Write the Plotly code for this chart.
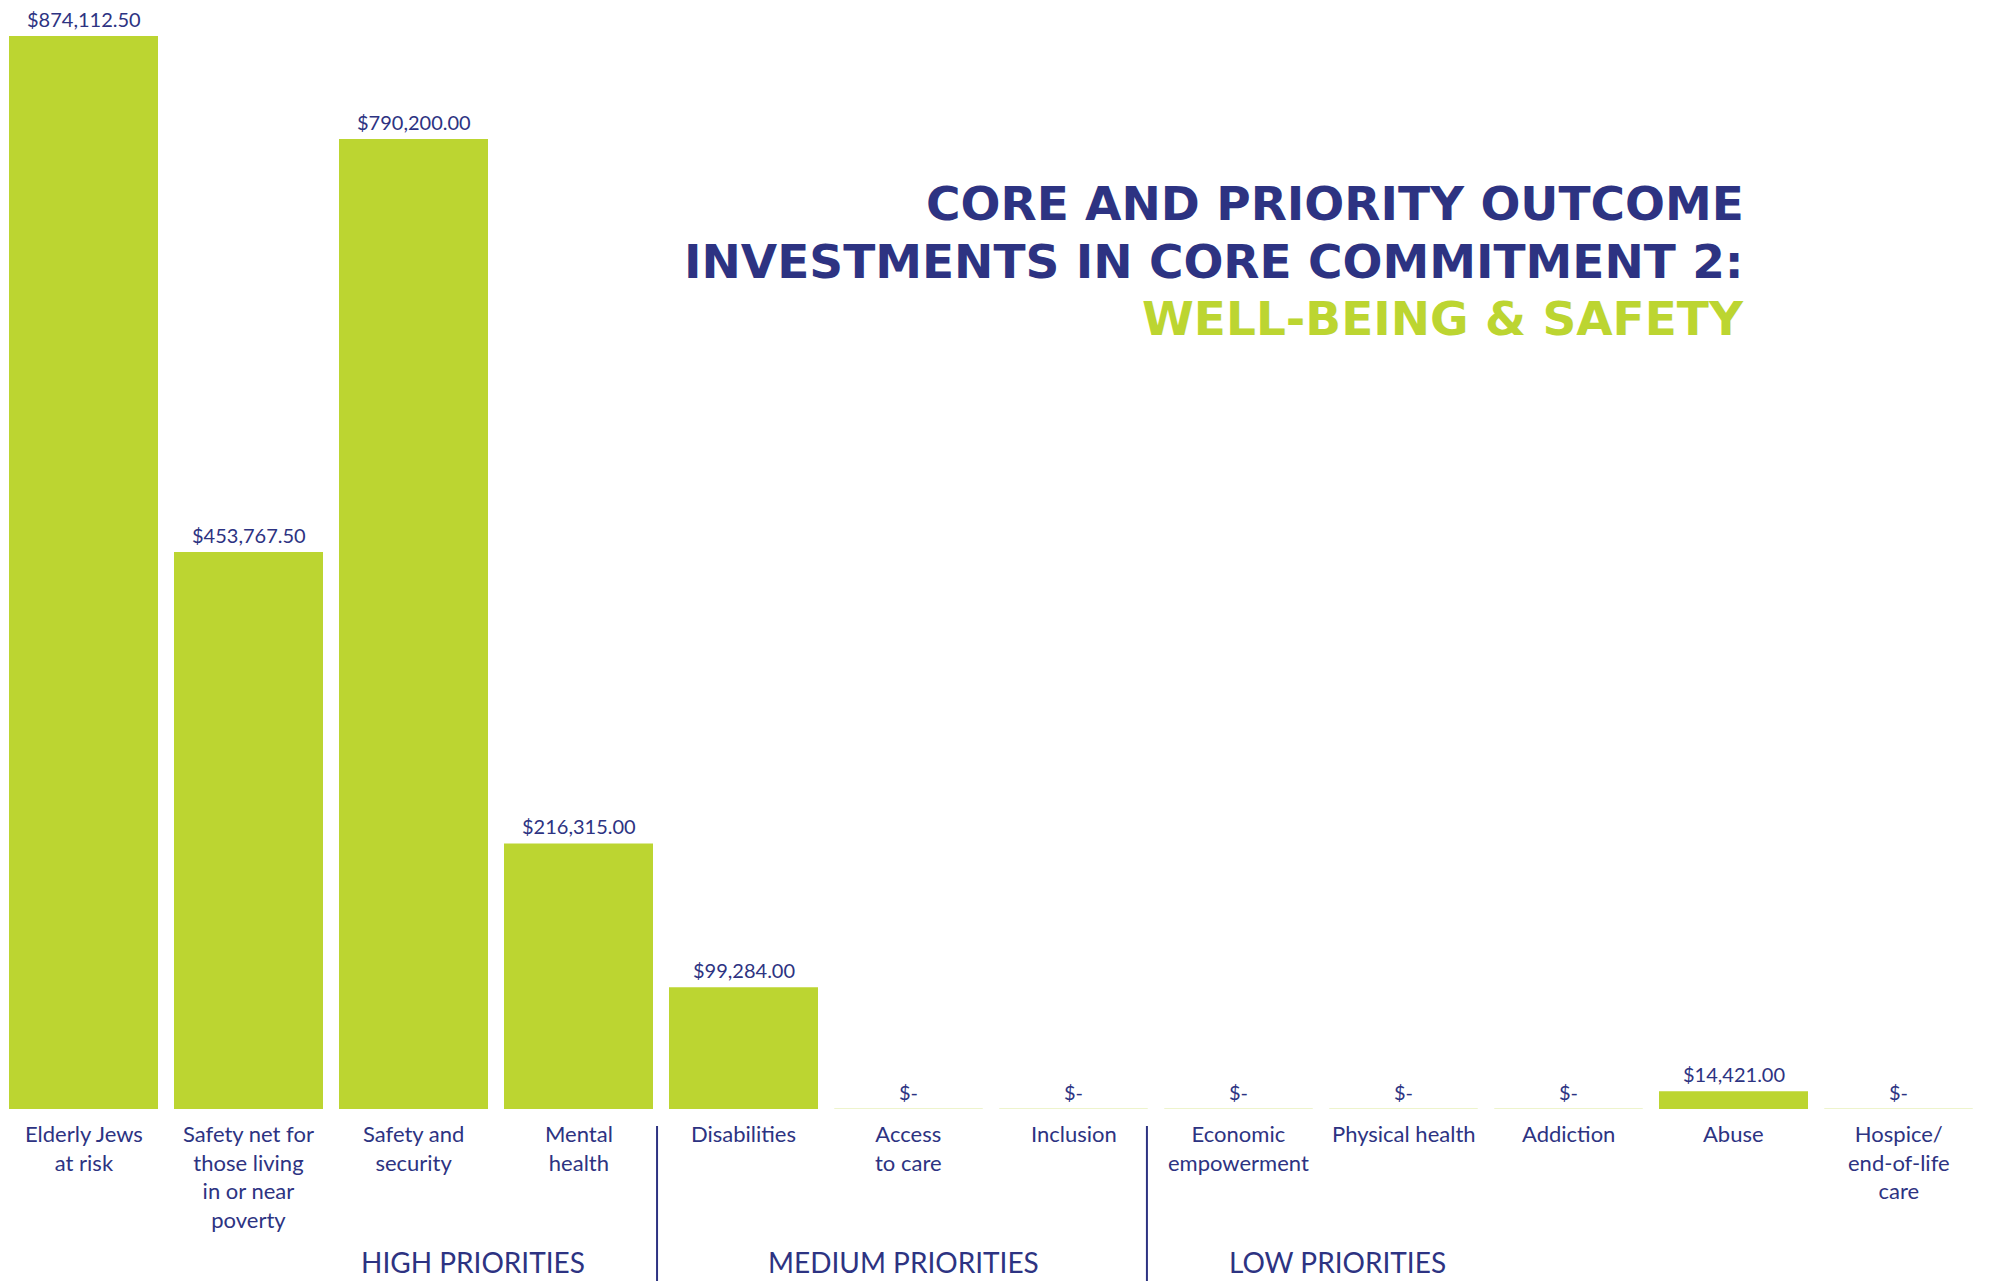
import plotly.graph_objects as go

categories = [
    "Elderly Jews<br>at risk",
    "Safety net for<br>those living<br>in or near<br>poverty",
    "Safety and<br>security",
    "Mental<br>health",
    "Disabilities",
    "Access<br>to care",
    "Inclusion",
    "Economic<br>empowerment",
    "Physical health",
    "Addiction",
    "Abuse",
    "Hospice/<br>end-of-life<br>care",
]
values = [874112.50, 453767.50, 790200.00, 216315.00, 99284.00, 0, 0, 0, 0, 0, 14421.00, 0]
groups = ["HIGH PRIORITIES", "MEDIUM PRIORITIES", "LOW PRIORITIES"]
title_lines = ["CORE AND PRIORITY OUTCOME", "INVESTMENTS IN CORE COMMITMENT 2:", "WELL-BEING & SAFETY"]

GREEN = "#BCD531"
PALE = "#EEF4CC"
NAVY = "#2D3382"
FONT = "Lato"
TFONT = "DejaVu Sans"

W, H = 1996, 1281
ML, MR, MT, MB = 1, 15, 0, 172
plot_h = H - MT - MB

labels = [f"${v:,.2f}" if v else "$-" for v in values]
idx = list(range(len(categories)))

fig = go.Figure()
fig.add_trace(go.Bar(
    x=idx, y=values, marker=dict(color=GREEN, line=dict(width=0)),
    hoverinfo="skip",
))

annotations = []
# value labels above bars
for i, (v, t) in enumerate(zip(values, labels)):
    annotations.append(dict(x=i, y=v, xref="x", yref="y", text=t, showarrow=False,
                            yanchor="bottom", yshift=3,
                            font=dict(family=FONT, size=20, color=NAVY)))

# category labels under bars
for i, cat in enumerate(categories):
    annotations.append(dict(x=i, y=0, xref="x", yref="y", text=cat, showarrow=False,
                            yanchor="top", xanchor="center", yshift=-9, align="center",
                            font=dict(family=FONT, size=22, color=NAVY)))

shapes = []
for i, v in enumerate(values):
    shapes.append(dict(type="line", xref="x", yref="y", x0=i - 0.45, x1=i + 0.45, y0=0, y1=0,
                       line=dict(color=PALE, width=2), layer="below"))


def ypx_to_paper(ypix):
    return (H - MB - ypix) / plot_h


for sx in [3.476, 6.445]:
    shapes.append(dict(type="line", xref="x", yref="paper", x0=sx, x1=sx,
                       y0=ypx_to_paper(1126), y1=ypx_to_paper(1281),
                       line=dict(color=NAVY, width=2)))

group_x = [2.36, 4.97, 7.6]
for gx, g in zip(group_x, groups):
    annotations.append(dict(x=gx, y=ypx_to_paper(1262), xref="x", yref="paper", text=g,
                            showarrow=False, yanchor="middle", xanchor="center",
                            font=dict(family=FONT, size=28, color=NAVY)))

title_y = [203.5, 261, 318.5]
title_colors = [NAVY, NAVY, GREEN]
for ty, tl, tc in zip(title_y, title_lines, title_colors):
    annotations.append(dict(x=(1745 - ML) / (W - ML - MR), y=ypx_to_paper(ty), xref="paper", yref="paper",
                            text=tl, showarrow=False, xanchor="right", yanchor="middle", borderpad=0,
                            font=dict(family=TFONT, size=47, color=tc, weight="bold")))

ymax = max(values) * (plot_h / 1073)

fig.update_layout(
    width=W, height=H,
    margin=dict(l=ML, r=MR, t=MT, b=MB),
    paper_bgcolor="white", plot_bgcolor="white",
    bargap=0.097,
    showlegend=False,
    xaxis=dict(tickmode="array", tickvals=idx, range=[-0.5, len(categories) - 0.5],
               showgrid=False, zeroline=False, showline=False, ticks="", showticklabels=False),
    yaxis=dict(range=[0, ymax], visible=False, showgrid=False, zeroline=False),
    annotations=annotations, shapes=shapes,
)

fig.write_html("out.html", config={"displayModeBar": False},
               post_script="document.body.style.margin='0';document.body.style.overflow='hidden';")
